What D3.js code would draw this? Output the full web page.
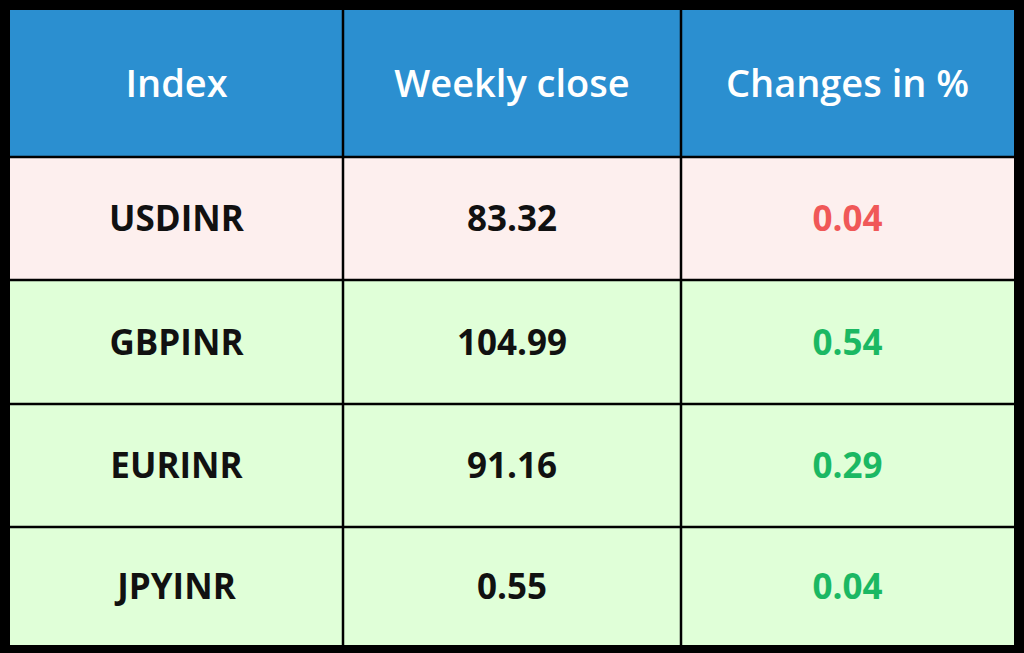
<!DOCTYPE html><html><head><meta charset="utf-8"><script src="https://cdn.jsdelivr.net/npm/d3@7"></script>
<style>body{margin:0;background:#000}</style></head><body><svg id="c" width="1024" height="653"></svg>
<script>
const headers=["Index","Weekly close","Changes in %"];
const indices=["USDINR","GBPINR","EURINR","JPYINR"];
const closes=["83.32","104.99","91.16","0.55"];
const changes=["0.04","0.54","0.29","0.04"];
const direction=["down","up","up","up"];
const svg=d3.select("#c");
svg.append("rect").attr("width",1024).attr("height",653).attr("fill","#000");
const x=d3.scaleLinear().domain([0,1,2,3]).range([10,343,681,1014]);
const y=d3.scaleLinear().domain([0,1,2,3,4,5]).range([10,157,280,404,527,645]);
const font="'Open Sans', sans-serif";
// header
headers.forEach((h,i)=>{
 svg.append("rect").attr("x",x(i)).attr("y",y(0)).attr("width",x(i+1)-x(i)).attr("height",y(1)-y(0)).attr("fill","#2b8fd0");
 svg.append("text").attr("x",(x(i)+x(i+1))/2).attr("y",(y(0)+y(1))/2).attr("dy","0.36em").attr("text-anchor","middle")
 .attr("font-family",font).attr("font-weight",600).attr("font-size",38).attr("fill","#fff").text(h);
});
indices.forEach((ind,r)=>{
 const bg=direction[r]==="down"?"#fdefee":"#e0ffd8";
 const vals=[ind,closes[r],changes[r]];
 vals.forEach((v,i)=>{
  svg.append("rect").attr("x",x(i)).attr("y",y(r+1)).attr("width",x(i+1)-x(i)).attr("height",y(r+2)-y(r+1)).attr("fill",bg);
  svg.append("text").attr("x",(x(i)+x(i+1))/2).attr("y",(y(r+1)+y(r+2))/2).attr("dy","0.36em").attr("text-anchor","middle")
  .attr("font-family",font).attr("font-weight",700).attr("font-size",35)
  .attr("fill",i<2?"#111":(direction[r]==="down"?"#f05858":"#1bb863")).text(v);
 });
});
// grid lines
[1,2].forEach(i=>svg.append("line").attr("x1",x(i)).attr("x2",x(i)).attr("y1",y(0)).attr("y2",y(5)).attr("stroke","#000").attr("stroke-width",2.5));
[1,2,3,4].forEach(j=>svg.append("line").attr("x1",x(0)).attr("x2",x(3)).attr("y1",y(j)).attr("y2",y(j)).attr("stroke","#000").attr("stroke-width",2.5));
</script></body></html>
